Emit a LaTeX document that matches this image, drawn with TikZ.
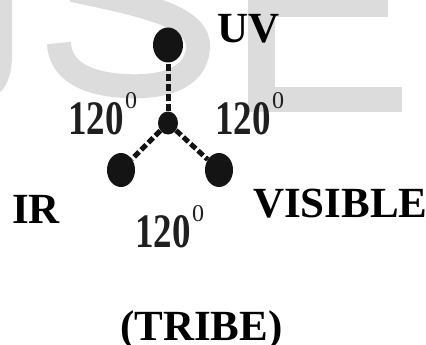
\documentclass[tikz,border=0pt]{standalone}
\usepackage{fontspec}
\setmainfont{Liberation Serif}
\usetikzlibrary{shapes.geometric}
\definecolor{wm}{RGB}{220,220,220}
\newcommand\degtxt{\scalebox{1}[1.3]{\fontsize{37}{37}\selectfont\bfseries 120}\hspace{1.5pt}\raisebox{26pt}{\fontsize{24}{24}\selectfont 0}}
\begin{document}
\begin{tikzpicture}[x=1pt,y=-1pt,
  dot/.style={ellipse, fill=black!92, inner sep=0pt, draw=none},
  link/.style={line width=5pt, dash pattern=on 7pt off 3pt, black!92},
  lbl/.style={anchor=base west, inner sep=0pt, font=\fontsize{43}{43}\selectfont\bfseries},
  deg/.style={anchor=base west, inner sep=0pt, text=black!88},
  wmark/.style={wm, line width=24pt}]
\useasboundingbox[fill=white] (0,0) rectangle (426,345);
% watermark
\begin{scope}
\clip (0,0) rectangle (426,345);
\fill[wm] (-1,-1) -- (12,-1) -- (12,55) .. controls (12,75) and (6,88) .. (-1,93) -- cycle;
\draw[wmark] (72,-10) .. controls (150,6) and (200,18) .. (198,48) .. controls (196,80) and (160,88) .. (125,86) .. controls (85,84) and (60,70) .. (59,43);
\fill[wm] (248,-1) rectangle (275,112);
\fill[wm] (248,-1) rectangle (388,17);
\fill[wm] (248,87) rectangle (402,112);
\end{scope}
% dots
\node[dot, minimum width=30pt, minimum height=35pt] (uv) at (168,45) {};
\node[dot, minimum width=20pt, minimum height=23pt] (c) at (168,123) {};
\node[dot, minimum width=28pt, minimum height=34pt] (ir) at (121,170) {};
\node[dot, minimum width=28pt, minimum height=34pt] (vis) at (219,170) {};
\draw[link] (c) -- (uv);
\draw[link] (c) -- (ir);
\draw[link] (c) -- (vis);
% labels
\node[lbl] (tuv) at (217,43) {UV};
\node[lbl] (tvis) at (253,217) {VISIBLE};
\node[lbl] (tir) at (12,223) {IR};
\node[lbl] (ttribe) at (120,340) {(TRIBE)};
\node[deg] (aleft) at (68,135) {\degtxt};
\node[deg] (aright) at (215,135) {\degtxt};
\node[deg] (abot) at (135,247) {\degtxt};
\end{tikzpicture}
\end{document}
